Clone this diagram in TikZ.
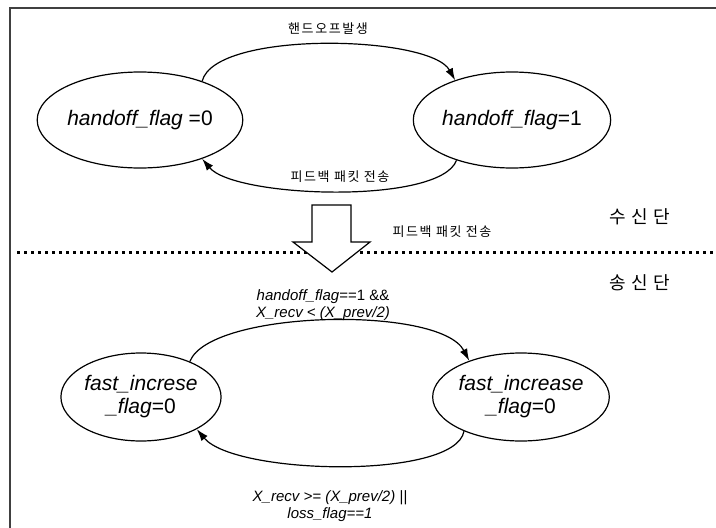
\documentclass[tikz,border=0pt]{standalone}
\usepackage{fontspec}
\setmainfont{Liberation Sans}
\newfontfamily\kr[LetterSpace=12]{Noto Sans CJK KR}
\newfontfamily\krwide[LetterSpace=30]{Noto Sans CJK KR}
\usetikzlibrary{arrows.meta,shapes.geometric}
\begin{document}
\begin{tikzpicture}[x=1pt,y=-1pt,
  state/.style={draw,ellipse,line width=1.2pt,inner sep=0pt,font=\fontsize{21}{23}\selectfont,align=center},
  trans/.style={line width=1.2pt,-{Latex[length=12pt,width=8pt]}},
  krlab/.style={font=\kr\fontsize{13}{15}\selectfont,inner sep=0pt},
  krbig/.style={font=\krwide\fontsize{18}{20}\selectfont,inner sep=0pt},
  cond/.style={font=\fontsize{15}{17}\selectfont\itshape,align=center,inner sep=0pt}
]
\useasboundingbox (0,0) rectangle (716,528);
% frame
\draw[line width=1.5pt,black!75] (716,8) -- (10,8) -- (10,528);
% dotted separator
\coordinate (dl) at (17,252);
\coordinate (dr) at (716,252);
\draw[line width=3pt,dash pattern=on 3pt off 4pt] (dl) -- (dr);

% top states
\node[state,minimum width=155pt,minimum height=96pt] (h0) at (140,120) {\textit{handoff\_flag} =0};
\node[state,minimum width=156pt,minimum height=96pt] (h1) at (512,120) {\textit{handoff\_flag}=1};
\draw[trans] (h0.32) .. controls (215,30) and (430,35) .. (h1.145);
\draw[trans] (h1.216) .. controls (440,205) and (235,198) .. (h0.-32);
\node[krlab] (l1) at (328,29) {핸드오프발생};
\node[krlab] (l2) at (340,177) {피드백 패킷 전송};

% big hollow arrow
\draw[line width=1.2pt,fill=white] (312,205) -- (351,205) -- (351,242) -- (370,242) -- (332,272) -- (293,242) -- (312,242) -- cycle;
\node[krlab] (l3) at (442,232) {피드백 패킷 전송};
\node[krbig] (rx) at (640,217) {수신단};
\node[krbig] (tx) at (640,283) {송신단};

% bottom states
\node[state,minimum width=153pt,minimum height=88pt] (f0) at (141,397) {\textit{fast\_increse}\\\textit{\_flag}=0};
\node[state,minimum width=153pt,minimum height=88pt] (f1) at (521,397) {\textit{fast\_increase}\\\textit{\_flag}=0};
\draw[trans] (f0.36) .. controls (210,310) and (440,305) .. (f1.145);
\draw[trans] (f1.211) .. controls (455,480) and (235,475) .. (f0.-30);
\node[cond] (c1) at (323,305) {\textit{handoff\_flag}\upshape==1 \&\&\\X\_recv < (X\_prev/2)};
\node[cond] (c2) at (330,506) {X\_recv >= (X\_prev/2) ||\\loss\_flag==1};
\end{tikzpicture}
\end{document}
